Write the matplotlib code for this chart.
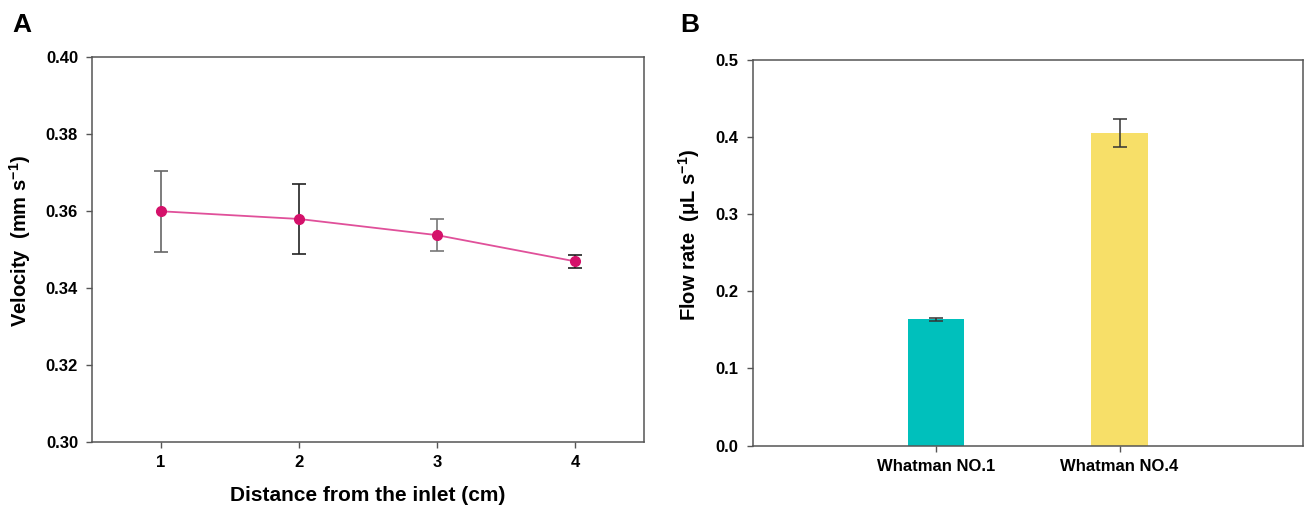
import matplotlib
matplotlib.use("Agg")
import matplotlib.pyplot as plt
import numpy as np

plt.rcParams['font.family'] = ['Liberation Sans', 'DejaVu Sans']
plt.rcParams['font.weight'] = 'bold'
plt.rcParams['mathtext.default'] = 'regular'

# panel A: velocity along the strip
distance = [1, 2, 3, 4]
velocity = [0.3598, 0.3578, 0.3536, 0.3468]
velocity_err = [0.0105, 0.0090, 0.0042, 0.0017]

# panel B: flow rate per paper grade
papers = ['Whatman NO.1', 'Whatman NO.4']
flow_rate = [0.1635, 0.4055]
flow_err = [0.0025, 0.0180]
bar_colors = ['#00C0BC', '#F7DF68']

spine_c = '#555555'
err_cols = ['#666666', '#222222', '#777777', '#222222']
W, H = 1307, 518
fig = plt.figure(figsize=(W / 100, H / 100), dpi=100)

def style(ax):
    for s in ax.spines.values():
        s.set_color(spine_c)
        s.set_linewidth(1.1)
    ax.tick_params(direction='out', length=4, width=1, color=spine_c,
                   labelsize=12, pad=6)
    for lab in ax.get_xticklabels() + ax.get_yticklabels():
        lab.set_fontweight('bold')

# ---- A ----
ax1 = fig.add_axes([92 / W, 1 - 441.5 / H, (644 - 92) / W, (441.5 - 56.5) / H])
for x, v, e, c in zip(distance, velocity, velocity_err, err_cols):
    ax1.errorbar(x, v, yerr=e, fmt='none', ecolor=c,
                 elinewidth=1.2, capsize=5, capthick=1.2, zorder=2)
ax1.plot(distance, velocity, '-', color='#E0509A', lw=1.3, zorder=3)
ax1.plot(distance, velocity, 'o', color='#D4116A', ms=7, zorder=4)
ax1.set_xlim(0.5, 4.5)
ax1.set_ylim(0.30, 0.40)
ax1.set_xticks(distance)
ax1.set_yticks(np.arange(0.30, 0.401, 0.02))
ax1.set_yticklabels(['%.2f' % v for v in np.arange(0.30, 0.401, 0.02)])
style(ax1)
ax1.set_xlabel('Distance from the inlet (cm)', fontsize=15, fontweight='bold', labelpad=11)
ax1.set_ylabel('Velocity  (mm s$^{-1}$)', fontsize=14.5, fontweight='bold', va='center')
ax1.yaxis.set_label_coords(-0.130, 0.52)
fig.text(12 / W, 1 - 32 / H, 'A', fontsize=19, fontweight='bold')

# ---- B ----
ax2 = fig.add_axes([752.5 / W, 1 - 445.5 / H, (1303 - 752.5) / W, (445.5 - 60) / H])
xpos = np.arange(len(papers))
ax2.bar(xpos, flow_rate, width=0.31, color=bar_colors, zorder=2)
ax2.errorbar(xpos, flow_rate, yerr=flow_err, fmt='none', ecolor='#333333',
             elinewidth=1.1, capsize=5, capthick=1.1, zorder=3)
ax2.set_xlim(-1, 2)
ax2.set_ylim(0, 0.5)
ax2.set_xticks(xpos)
ax2.set_xticklabels(papers)
ax2.set_yticks(np.arange(0, 0.51, 0.1))
ax2.set_yticklabels(['%.1f' % v for v in np.arange(0, 0.51, 0.1)])
style(ax2)
ax2.set_ylabel('Flow rate  (μL s$^{-1}$)', fontsize=14.5, fontweight='bold', va='center')
ax2.yaxis.set_label_coords(-0.115, 0.545)
fig.text(680 / W, 1 - 32 / H, 'B', fontsize=19, fontweight='bold')

fig.savefig('out.png', dpi=100)
